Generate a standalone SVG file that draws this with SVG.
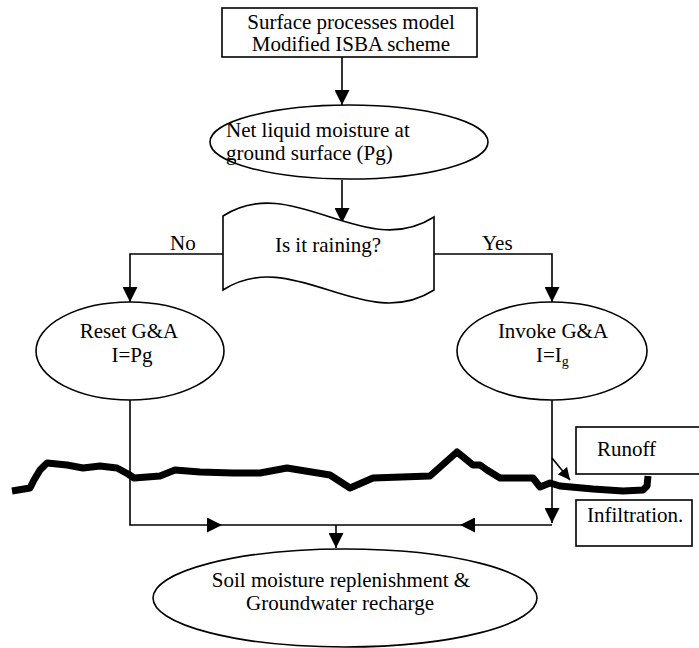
<svg xmlns="http://www.w3.org/2000/svg" width="699" height="648" viewBox="0 0 699 648">
<defs>
<marker id="ah" viewBox="0 0 10 10" refX="10" refY="5" markerWidth="15" markerHeight="15" markerUnits="userSpaceOnUse" orient="auto">
<path d="M0,0 L10,5 L0,10 Z" fill="#000"/>
</marker>
<marker id="ahs" viewBox="0 0 10 10" refX="10" refY="5" markerWidth="12" markerHeight="12" markerUnits="userSpaceOnUse" orient="auto">
<path d="M0,0 L10,5 L0,10 Z" fill="#000"/>
</marker>
</defs>
<style>
text{font-family:"Liberation Serif","Times New Roman",serif;font-size:21px;fill:#000}
.shape{fill:#fff;stroke:#000;stroke-width:1.6}
.conn{fill:none;stroke:#000;stroke-width:1.6}
.mid{text-anchor:middle}
</style>
<rect width="699" height="648" fill="#fff"/>

<g id="ground">
<path d="M12,491 L30,488 L34,480 L40,470 L47,463 L67,465 L83,468 L100,466 L117,468 L128,474 L134,478 L160,476 L175,470 L200,472 L233,473 L260,473 L287,468 L330,475 L350,488 L373,478 L430,476 L457,452 L473,465 L480,465 L487,470 L500,478 L533,478 L540,487 L550,483 L560,486 L593,489 L623,491 L643,490 L647,486 L648,476" fill="none" stroke="#000" stroke-width="7" stroke-linejoin="round" stroke-linecap="butt"/>
</g>

<g id="connectors">
<line class="conn" x1="342" y1="57" x2="342" y2="105" marker-end="url(#ah)"/>
<line class="conn" x1="342" y1="180" x2="342" y2="223" marker-end="url(#ah)"/>
<polyline class="conn" points="223,254 130,254 130,302" marker-end="url(#ah)"/>
<polyline class="conn" points="434,254 552,254 552,302" marker-end="url(#ah)"/>
<polyline class="conn" points="130,400 130,525 222,525" marker-end="url(#ah)"/>
<line class="conn" x1="222" y1="525" x2="460" y2="525"/>
<line class="conn" x1="552" y1="525" x2="460" y2="525" marker-end="url(#ah)"/>
<line class="conn" x1="552" y1="400" x2="552" y2="523" marker-end="url(#ah)"/>
<line class="conn" x1="336" y1="525" x2="336" y2="548" marker-end="url(#ah)"/>
<line class="conn" x1="552" y1="458" x2="570" y2="480" marker-end="url(#ahs)"/>
</g>

<g id="labels">
<text x="170" y="250">No</text>
<text x="482" y="250">Yes</text>
</g>

<g id="surface-model">
<rect class="shape" x="222" y="8" width="255" height="49"/>
<text class="mid" x="351" y="29">Surface processes model</text>
<text class="mid" x="351" y="51">Modified ISBA scheme</text>
</g>

<g id="net-moisture">
<ellipse class="shape" cx="349" cy="142" rx="139" ry="37"/>
<text x="226" y="137">Net liquid moisture at</text>
<text x="226" y="160">ground surface (Pg)</text>
</g>

<g id="raining">
<path class="shape" d="M223,216 C293,171 364,262 434,217 L434,290 C364,335 293,245 223,290 Z"/>
<text class="mid" x="328" y="252">Is it raining?</text>
</g>

<g id="reset">
<ellipse class="shape" cx="130" cy="351" rx="94" ry="49"/>
<text class="mid" x="129" y="338">Reset G&amp;A</text>
<text class="mid" x="132" y="362">I=Pg</text>
</g>

<g id="invoke">
<ellipse class="shape" cx="552" cy="351" rx="95" ry="49"/>
<text class="mid" x="553" y="338">Invoke G&amp;A</text>
<text x="536" y="362">I=I<tspan font-size="14" dy="4">g</tspan></text>
</g>

<g id="soil">
<ellipse class="shape" cx="345" cy="598" rx="192" ry="49"/>
<text class="mid" x="341" y="587">Soil moisture replenishment &amp;</text>
<text class="mid" x="340" y="610">Groundwater recharge</text>
</g>

<g id="runoff">
<rect class="shape" x="576" y="427" width="130" height="47"/>
<text x="597" y="456">Runoff</text>
</g>

<g id="infiltration">
<rect class="shape" x="576" y="500" width="116" height="46"/>
<text x="587" y="522">Infiltration.</text>
</g>
</svg>
